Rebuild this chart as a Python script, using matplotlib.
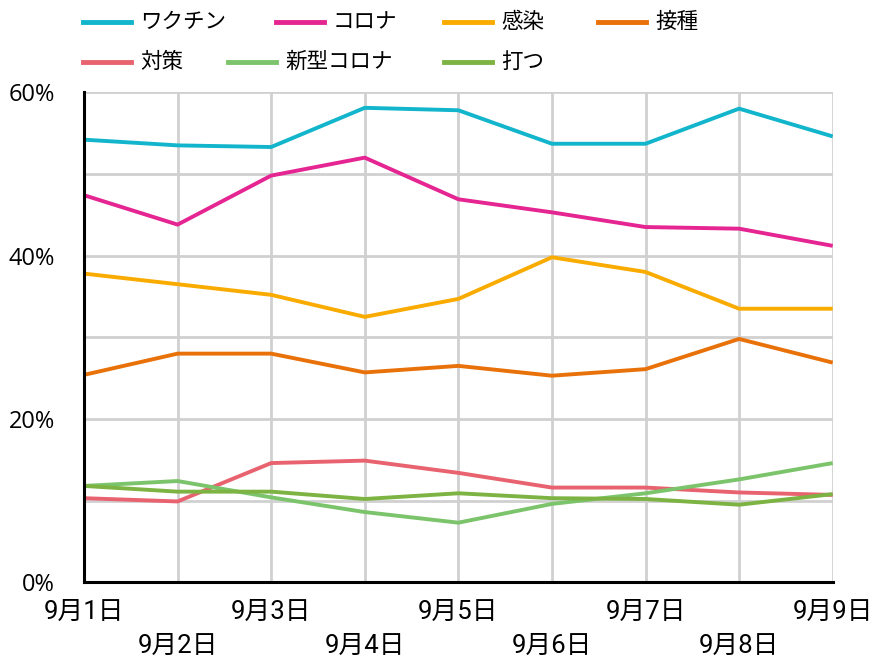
import matplotlib
matplotlib.use("Agg")
import matplotlib.pyplot as plt
from matplotlib.lines import Line2D

plt.rcParams['font.family'] = ['Noto Sans CJK JP', 'DejaVu Sans']

dates = ["9月1日", "9月2日", "9月3日", "9月4日", "9月5日", "9月6日", "9月7日", "9月8日", "9月9日"]
series_names = ["ワクチン", "コロナ", "感染", "接種", "対策", "新型コロナ", "打つ"]
vaccine = [54.2, 53.5, 53.3, 58.1, 57.8, 53.7, 53.7, 58.0, 54.6]
corona = [47.4, 43.8, 49.8, 52.0, 46.9, 45.3, 43.5, 43.3, 41.2]
infection = [37.8, 36.5, 35.2, 32.5, 34.7, 39.8, 38.0, 33.5, 33.5]
inoculation = [25.4, 28.0, 28.0, 25.7, 26.5, 25.3, 26.1, 29.8, 26.9]
measures = [10.3, 9.9, 14.6, 14.9, 13.4, 11.6, 11.6, 11.0, 10.7]
new_corona = [11.8, 12.4, 10.4, 8.6, 7.3, 9.6, 10.9, 12.6, 14.6]
utsu = [11.8, 11.1, 11.1, 10.2, 10.9, 10.3, 10.2, 9.5, 10.8]
y_ticks = [0, 20, 40, 60]
y_tick_labels = ["0%", "20%", "40%", "60%"]

series = [vaccine, corona, infection, inoculation, measures, new_corona, utsu]
colors = ["#12B5CB", "#E52592", "#F9AB00", "#E8710A", "#E8636F", "#7BC46B", "#7CB342"]

fig = plt.figure(figsize=(8.75, 6.64), dpi=100)
ax = fig.add_axes([84/875, 1-582.3/664, (832.7-84)/875, (582.3-92.3)/664])

x = list(range(len(dates)))
for vals, c in zip(series, colors):
    ax.plot(x, vals, color=c, lw=2.8, solid_capstyle='butt', zorder=3)

ax.set_xlim(0, len(dates)-1)
ax.set_ylim(0, 60)
ax.set_yticks(y_ticks)
ax.set_yticklabels(y_tick_labels, fontsize=17, family=['Open Sans', 'DejaVu Sans'])
ax.set_yticks(range(0, 61, 10), minor=True)
ax.grid(True, which='both', axis='y', color='#d0d0d0', lw=2)
ax.set_xticks(x)
ax.set_xticklabels([])
ax.grid(True, axis='x', color='#d0d0d0', lw=2)
ax.tick_params(axis='both', which='both', length=0)
ax.tick_params(axis='y', pad=21)
for i, d in enumerate(dates):
    ax.annotate(d, xy=(i, 0), xycoords=('data', 'axes fraction'),
                xytext=(0, -21 if i % 2 == 0 else -46), textcoords='offset points',
                ha='center', va='center', fontsize=18.5,
                family=['Roboto', 'Noto Sans CJK JP'])
for s in ['top', 'right']:
    ax.spines[s].set_visible(False)
for s in ['left', 'bottom']:
    ax.spines[s].set_color('black')
    ax.spines[s].set_linewidth(2.2)
    ax.spines[s].set_zorder(4)

# legend (manual flow layout)
leg_pos = [(83, 22), (276, 22), (444, 22), (598, 22), (83, 62), (228, 62), (444, 62)]
for name, c, (px, py) in zip(series_names, colors, leg_pos):
    fy = 1 - py/664
    fig.add_artist(Line2D([px/875, (px+48)/875], [fy, fy], color=c, lw=3.5,
                          transform=fig.transFigure))
    fig.text((px+57)/875, fy, name, fontsize=15.5, va='center', ha='left')

fig.savefig("out.png", dpi=100)
